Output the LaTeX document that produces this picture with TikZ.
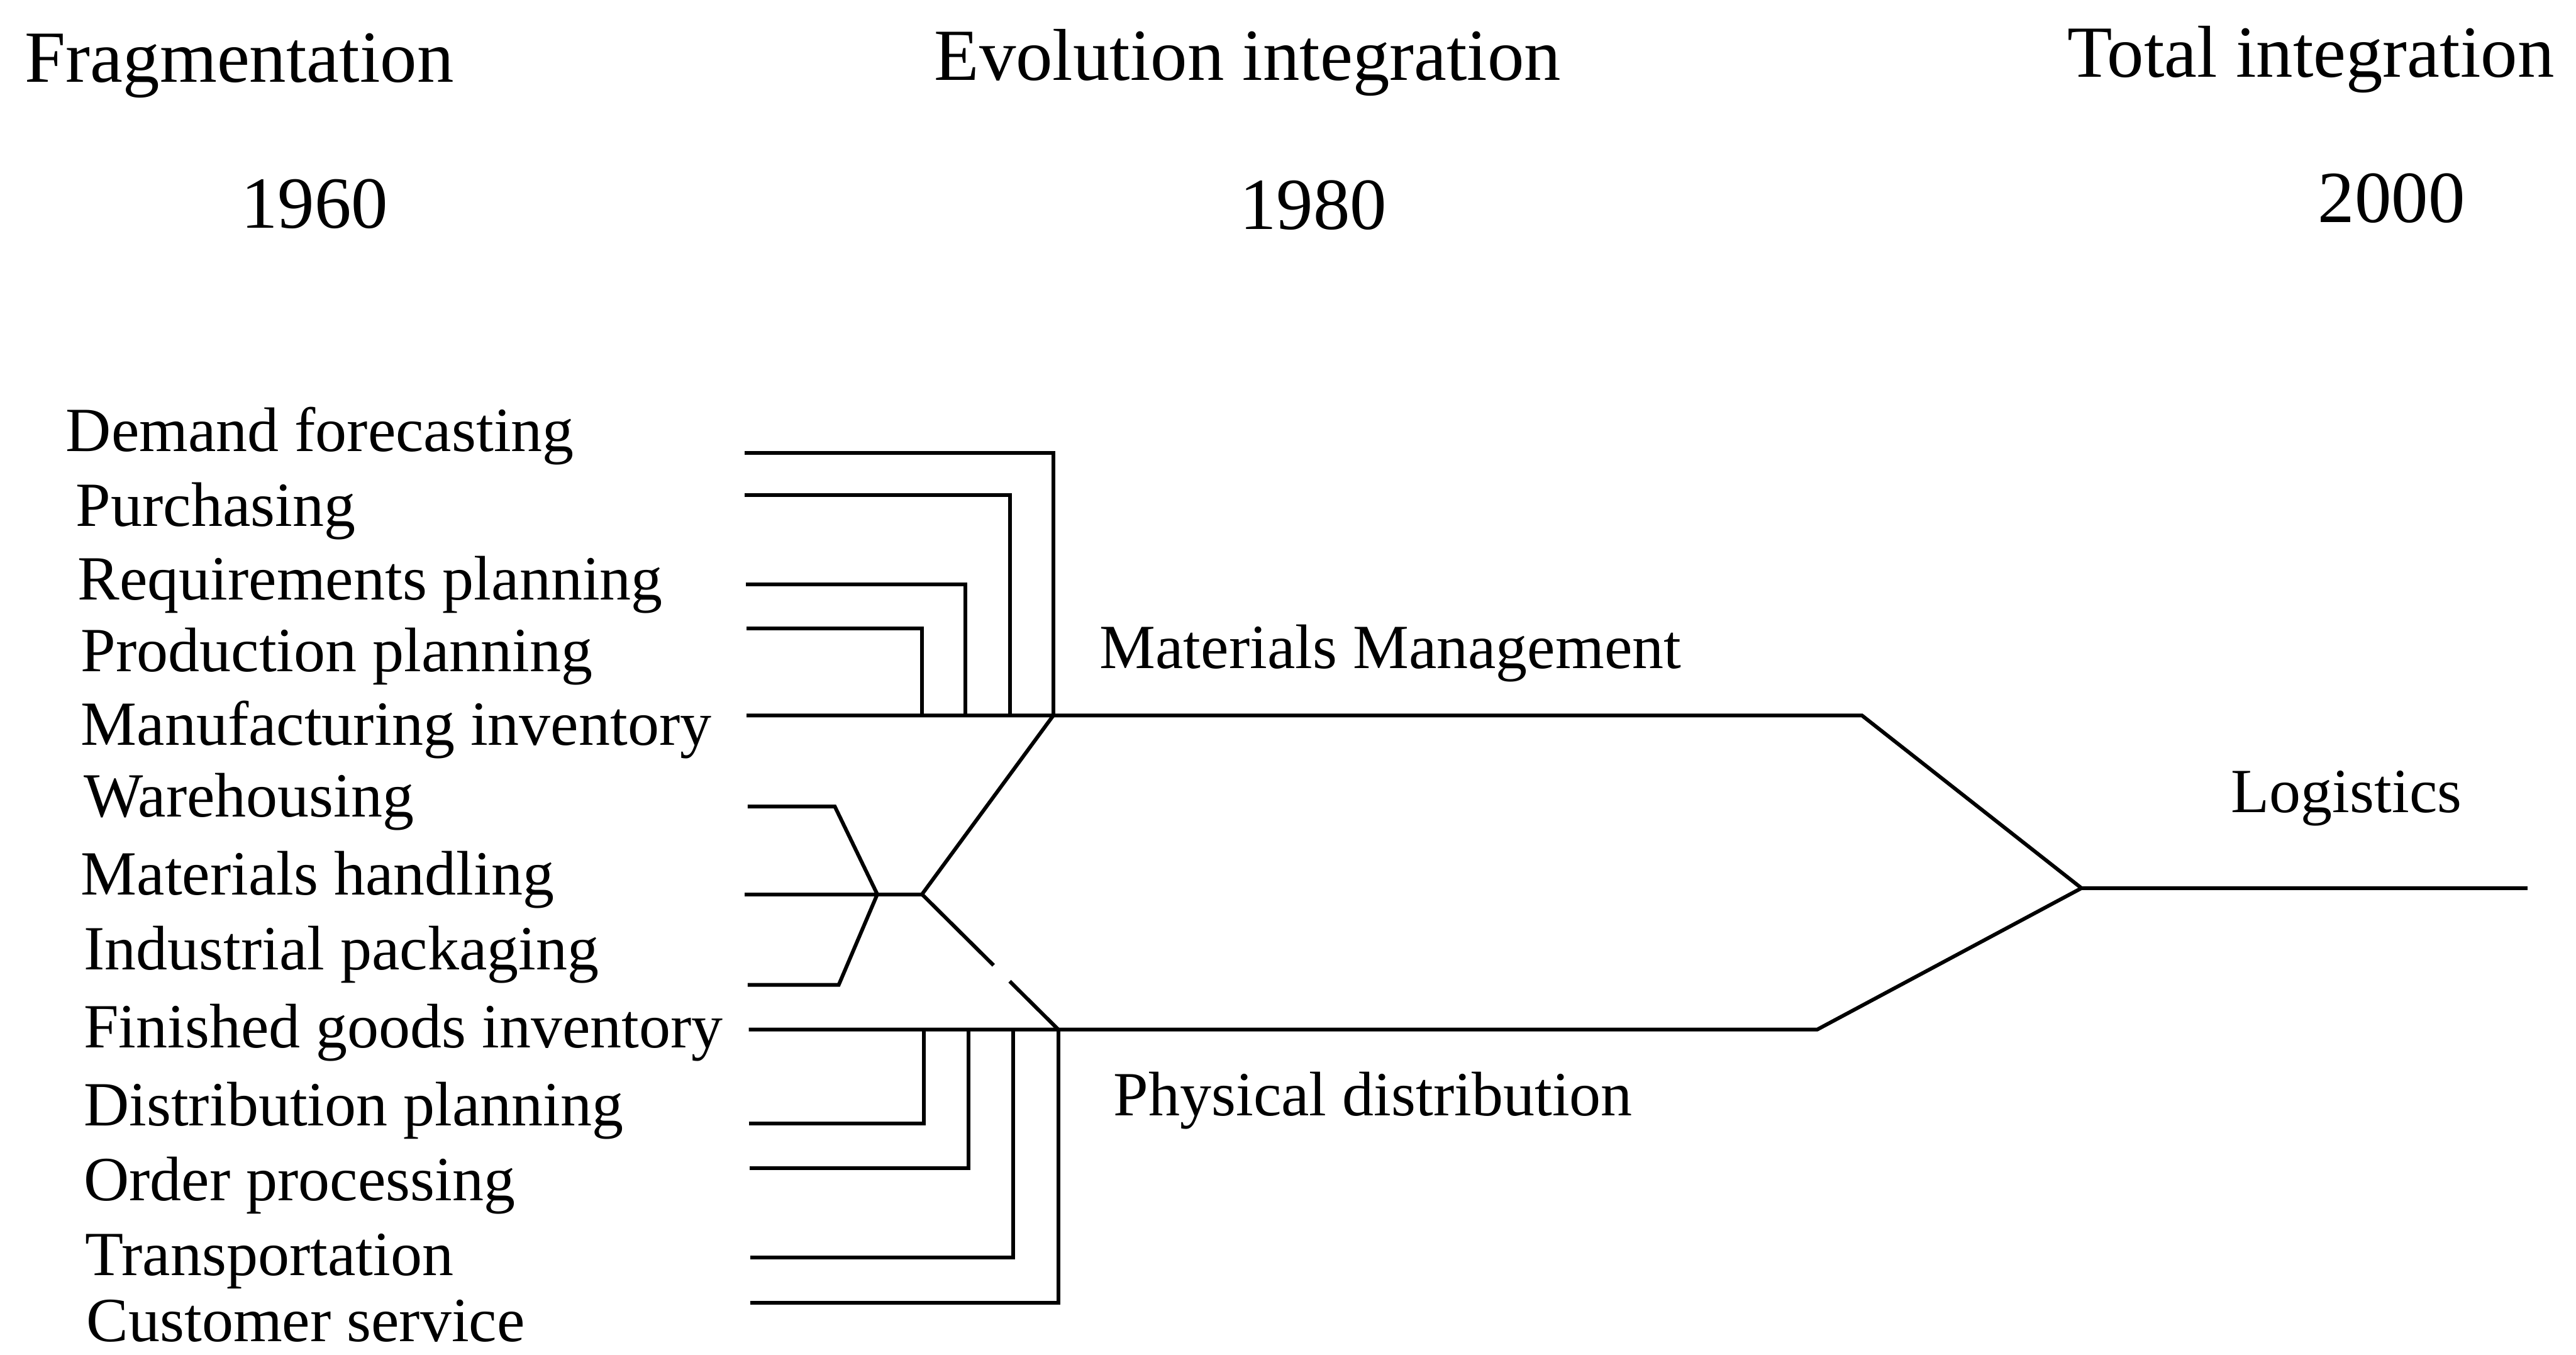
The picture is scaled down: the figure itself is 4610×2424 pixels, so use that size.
\documentclass[tikz,border=0pt]{standalone}
\usepackage{fontspec}
\setmainfont{Liberation Serif}
\usetikzlibrary{calc}
\begin{document}
\begin{tikzpicture}[x=0.01cm,y=-0.01cm,
  every node/.style={inner sep=0pt,outer sep=0pt},
  head/.style={font=\fontsize{37.4}{40}\selectfont,anchor=base west},
  year/.style={font=\fontsize{37.4}{40}\selectfont,anchor=base},
  item/.style={font=\fontsize{32}{36}\selectfont,anchor=base west},
  flow/.style={line width=1.9pt,line join=miter,line cap=butt}]

\useasboundingbox (0,0) rectangle (4610,2424);

% period headings
\node[head] (frag) at (45,147)   {Fragmentation};
\node[head] (evo)  at (1672,144) {Evolution integration};
\node[head] (tot)  at (3700,138) {Total integration};
\node[year] (y60)  at (563,408)  {1960};
\node[year] (y80)  at (2350,410) {1980};
\node[year] (y00)  at (4280,398) {2000};

% separate activities
\node[item] (df) at (118,808)  {Demand forecasting};
\node[item] (pu) at (136,942)  {Purchasing};
\node[item] (rp) at (139,1073) {Requirements planning};
\node[item] (pp) at (145,1202) {Production planning};
\node[item] (mi) at (145,1333) {Manufacturing inventory};
\node[item] (wh) at (150,1461) {Warehousing};
\node[item] (mh) at (145,1601) {Materials handling};
\node[item] (ip) at (150,1735) {Industrial packaging};
\node[item] (fg) at (150,1874) {Finished goods inventory};
\node[item] (dp) at (150,2014) {Distribution planning};
\node[item] (op) at (150,2148) {Order processing};
\node[item] (tr) at (153,2282) {Transportation};
\node[item] (cs) at (155,2400) {Customer service};

% integrated functions
\node[item] (mat)  at (1968,1196) {Materials Management};
\node[item] (phys) at (1993,1996) {Physical distribution};
\node[item] (logi) at (3993,1453) {Logistics};

% line start points
\coordinate (dfS) at (1333,810);
\coordinate (puS) at (1333,886);
\coordinate (rpS) at (1335,1046);
\coordinate (ppS) at (1336,1124);
\coordinate (miS) at (1336,1280);
\coordinate (whS) at (1338,1443);
\coordinate (mhS) at (1333,1600);
\coordinate (ipS) at (1338,1762);
\coordinate (fgS) at (1340,1842);
\coordinate (dpS) at (1340,2010);
\coordinate (opS) at (1342,2090);
\coordinate (trS) at (1343,2250);
\coordinate (csS) at (1343,2331);

% junctions
\coordinate (j1)  at (1650,1280);
\coordinate (j2)  at (1728,1280);
\coordinate (j3)  at (1807,1280);
\coordinate (mmJ) at (1885,1280);
\coordinate (k1)  at (1653,1842);
\coordinate (k2)  at (1733,1842);
\coordinate (k3)  at (1813,1842);
\coordinate (pdJ) at (1894,1842);
\coordinate (whB) at (1494,1443);
\coordinate (ipB) at (1501,1762);
\coordinate (hub) at (1570,1600);
\coordinate (fork) at (1650,1600);
\coordinate (mmE) at (3332,1280);
\coordinate (pdE) at (3252,1842);
\coordinate (logJ) at (3725,1589);
\coordinate (logE) at (4523,1589);

% materials management branch
\draw[flow] (dfS) -| (mmJ);
\draw[flow] (puS) -| (j3);
\draw[flow] (rpS) -| (j2);
\draw[flow] (ppS) -| (j1);
\draw[flow] (miS) -- (mmJ) -- (mmE) -- (logJ) -- (logE);

% handling / packaging hub
\draw[flow] (whS) -- (whB) -- (hub);
\draw[flow] (ipS) -- (ipB) -- (hub);
\draw[flow] (mhS) -- (hub) -- (fork);
\draw[flow] (fork) -- (mmJ);
\draw[flow] (fork) -- ($(fork)!0.525!(pdJ)$);
\draw[flow] ($(fork)!0.643!(pdJ)$) -- (pdJ);

% physical distribution branch
\draw[flow] (fgS) -- (pdJ) -- (pdE) -- (logJ);
\draw[flow] (dpS) -| (k1);
\draw[flow] (opS) -| (k2);
\draw[flow] (trS) -| (k3);
\draw[flow] (csS) -| (pdJ);
\end{tikzpicture}
\end{document}
